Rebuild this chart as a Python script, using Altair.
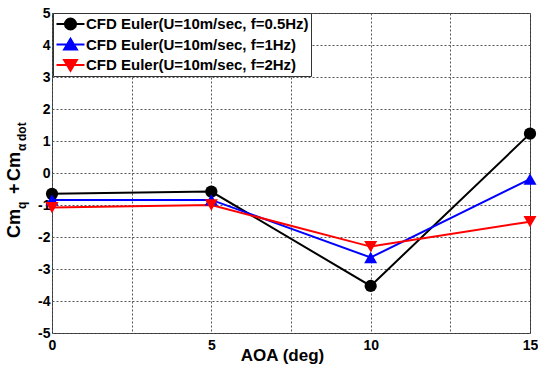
import altair as alt
import pandas as pd

# ---- data ----
aoa = [0, 5, 10, 15]
series_names = [
    "CFD Euler(U=10m/sec, f=0.5Hz)",
    "CFD Euler(U=10m/sec, f=1Hz)",
    "CFD Euler(U=10m/sec, f=2Hz)",
]
cm_f05 = [-0.65, -0.58, -3.53, 1.23]
cm_f1 = [-0.84, -0.84, -2.64, -0.19]
cm_f2 = [-1.08, -1.00, -2.30, -1.52]
series_colors = ["#000000", "#0000ff", "#ff0000"]
series_shapes = ["circle", "triangle-up", "triangle-down"]
series_sizes = [150, 170, 170]
x_ticks = [0, 2.5, 5, 7.5, 10, 12.5, 15]
y_ticks = [-5, -4, -3, -2, -1, 0, 1, 2, 3, 4, 5]

# legend symbols: line segment + marker (unit-square SVG paths)
legend_paths = [
    "M-1.75,0H1.75M0.69,0A0.69,0.69,0,1,1,-0.69,0A0.69,0.69,0,1,1,0.69,0Z",
    "M-1.75,0H1.75M0,-0.72L0.8,0.62L-0.8,0.62Z",
    "M-1.75,0H1.75M0,0.72L0.8,-0.62L-0.8,-0.62Z",
]

rows = []
for name, vals in zip(series_names, [cm_f05, cm_f1, cm_f2]):
    for a, v in zip(aoa, vals):
        rows.append({"aoa": a, "cm": v, "series": name})
df = pd.DataFrame(rows)

FONT = "Liberation Sans"

x_enc = alt.X(
    "aoa:Q",
    scale=alt.Scale(domain=[0, 15], nice=False),
    axis=alt.Axis(
        values=x_ticks,
        labelExpr="datum.value % 5 == 0 ? '' + datum.value : ''",
        title="AOA (deg)",
        titleFont=FONT,
        titleFontSize=17,
        titleFontWeight="bold",
        titleColor="black",
        titleX=230,
        titleY=14,
        titleBaseline="top",
        labelFont=FONT,
        labelFontSize=14,
        labelFontWeight="bold",
        labelColor="black",
        labelPadding=5,
        labelFlush=False,
        ticks=False,
        domain=False,
        grid=True,
        gridColor="#555555",
        gridDash=[2, 2],
        gridOpacity=1,
    ),
)
y_enc = alt.Y(
    "cm:Q",
    scale=alt.Scale(domain=[-5, 5], nice=False),
    axis=alt.Axis(
        values=y_ticks,
        labelExpr="'' + datum.value",
        title=None,
        labelFont=FONT,
        labelFontSize=14,
        labelFontWeight="bold",
        labelColor="black",
        labelPadding=2,
        labelFlush=False,
        ticks=False,
        domain=False,
        grid=True,
        gridColor="#555555",
        gridDash=[2, 2],
        gridOpacity=1,
    ),
)

legend = alt.Legend(
    orient="none",
    legendX=1,
    legendY=0,
    title=None,
    strokeColor="#333333",
    fillColor="white",
    padding=2,
    rowPadding=2.5,
    clipHeight=18,
    symbolSize=256,
    symbolStrokeWidth=2,
    symbolOffset=6.5,
    symbolOpacity=1,
    labelOffset=6.5,
    labelFont=FONT,
    labelFontSize=15,
    labelFontWeight="bold",
    labelColor="black",
    labelLimit=400,
    cornerRadius=0,
)

color_scale = alt.Scale(domain=series_names, range=series_colors)
color_enc = alt.Color("series:N", scale=color_scale, legend=legend)

base = alt.Chart(df)

lines = base.mark_line(strokeWidth=2).encode(x=x_enc, y=y_enc, color=color_enc)

point_layers = []
for name, shp, sz in zip(series_names, series_shapes, series_sizes):
    point_layers.append(
        base.transform_filter(alt.datum.series == name)
        .mark_point(shape=shp, filled=True, size=sz, opacity=1)
        .encode(x=x_enc, y=y_enc, color=color_enc)
    )

legend_layer = (
    base.transform_filter("false")
    .mark_point(filled=True, opacity=1, strokeWidth=2)
    .encode(
        x=x_enc,
        y=y_enc,
        color=color_enc,
        stroke=alt.Stroke("series:N", scale=alt.Scale(domain=series_names, range=series_colors), legend=legend),
        shape=alt.Shape("series:N", scale=alt.Scale(domain=series_names, range=legend_paths), legend=legend),
    )
)

# y-axis title with subscripts: Cm_q + Cm_alpha dot  (positions relative to plot origin)
one = pd.DataFrame({"k": [0]})
def ttext(txt, size, px, py):
    return alt.Chart(one).mark_text(
        text=txt, font=FONT, fontSize=size, fontWeight="bold", color="black",
        angle=270, align="left", baseline="alphabetic",
    ).encode(x=alt.value(px - 52), y=alt.value(py - 13))

title_parts = [
    ttext("Cm", 18, 20, 238),
    ttext("q", 12, 26, 209),
    ttext("+", 18, 20, 194),
    ttext("Cm", 18, 20, 181),
    ttext("α", 12, 26, 151),
    ttext("dot", 12, 26, 141),
]

chart = (
    alt.layer(lines, *point_layers, legend_layer, *title_parts)
    .properties(
        width=478,
        height=320,
        padding={"left": 52, "top": 13, "right": 8, "bottom": 44},
        autosize=alt.AutoSizeParams(type="none"),
        background="white",
    )
    .configure_view(stroke="#333333", strokeWidth=1)
)

chart.save("out.html", embed_options={"renderer": "svg", "actions": False})
